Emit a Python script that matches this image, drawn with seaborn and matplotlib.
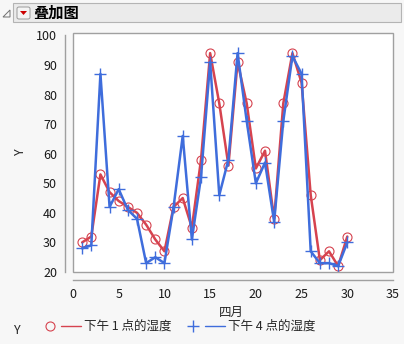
import matplotlib
matplotlib.use("Agg")
import matplotlib.pyplot as plt
from matplotlib.patches import Rectangle, Polygon, FancyBboxPatch
from matplotlib.lines import Line2D
import seaborn as sns
import pandas as pd

days = list(range(1, 31))
hum_1pm = [30, 32, 53, 47, 44, 42, 40, 36, 31, 27, 42, 45, 35, 58, 94,
           77, 56, 91, 77, 55, 61, 38, 77, 94, 84, 46, 24, 27, 22, 32]
hum_4pm = [28, 29, 87, 42, 48, 41, 38, 23, 25, 23, 42, 66, 31, 52, 91,
           46, 58, 94, 71, 50, 57, 37, 71, 93, 87, 27, 23, 23, 22, 30]
series_names = ["下午 1 点的湿度", "下午 4 点的湿度"]
x_ticks = [0, 5, 10, 15, 20, 25, 30, 35]
y_ticks = [20, 30, 40, 50, 60, 70, 80, 90, 100]

sns.set_style("white")
plt.rcParams["font.family"] = ["Noto Sans CJK SC", "DejaVu Sans"]

RED = "#d6434f"
BLUE = "#3f6ddc"
W, H = 404, 344

df1 = pd.DataFrame({"day": days, "value": hum_1pm})
df4 = pd.DataFrame({"day": days, "value": hum_4pm})

fig = plt.figure(figsize=(W / 100, H / 100), dpi=100)
fig.patch.set_facecolor("#f7f7f7")

def fx(x):
    return x / W

def fy(y):
    return 1 - y / H

# header bar
fig.patches.append(Rectangle((fx(13), fy(22)), fx(401) - fx(13), fy(3) - fy(22),
                             transform=fig.transFigure, facecolor="#ebebeb",
                             edgecolor="#b4b4b4", lw=0.8))
fig.patches.append(Polygon([[fx(3), fy(17)], [fx(10), fy(17)], [fx(10), fy(10)]],
                           closed=True, transform=fig.transFigure,
                           facecolor="none", edgecolor="#707070", lw=0.7))
fig.patches.append(FancyBboxPatch((fx(17), fy(19)), fx(30) - fx(17), fy(7) - fy(19),
                                  boxstyle="round,pad=0,rounding_size=0.005",
                                  transform=fig.transFigure, facecolor="#f4f4f4",
                                  edgecolor="#9a9a9a", lw=0.7))
fig.patches.append(Polygon([[fx(20), fy(11)], [fx(27), fy(11)], [fx(23.5), fy(15)]],
                           closed=True, transform=fig.transFigure,
                           facecolor="#cc0000", edgecolor="none"))
fig.text(fx(33), fy(12.5), "叠加图", fontsize=11, fontweight="bold",
         va="center", ha="left", color="black")

ax = fig.add_axes([fx(73), fy(272), fx(393) - fx(73), fy(33) - fy(272)])
ax.set_facecolor("white")

sns.lineplot(data=df1, x="day", y="value", color=RED, marker="o",
             markerfacecolor="none", markeredgecolor=RED, markeredgewidth=0.8,
             markersize=6.5, lw=1.8, ax=ax, zorder=2)
sns.lineplot(data=df4, x="day", y="value", color=BLUE, marker="+",
             markeredgecolor=BLUE, markeredgewidth=1.0,
             markersize=8, lw=1.8, ax=ax, zorder=3)

ax.set_xlim(0, 35)
ax.set_ylim(20, 100.8)
ax.set_xticks(x_ticks)
ax.set_yticks(y_ticks)

# frame
ax.add_patch(Rectangle((0, 0), 1, 1, transform=ax.transAxes, fill=False,
                       edgecolor="#a0a0a0", lw=1.0, clip_on=False, zorder=5))
for s in ["top", "right"]:
    ax.spines[s].set_visible(False)
for s in ["left", "bottom"]:
    ax.spines[s].set_color("#a0a0a0")
    ax.spines[s].set_linewidth(1.0)
ax.spines["left"].set_position(("outward", 6))
ax.spines["bottom"].set_position(("outward", 6))
ax.spines["left"].set_bounds(20, 100)
ax.spines["bottom"].set_bounds(0, 35)
ax.tick_params(axis="both", direction="out", length=4, width=1.0,
               color="#a0a0a0", labelsize=9, labelcolor="#1a1a1a", pad=1.5)
ax.set_xlabel("")
ax.set_ylabel("")

fig.text(fx(20), fy(152), "Y", rotation=90, fontsize=9, ha="center", va="center")
fig.text(fx(231), fy(312), "四月", fontsize=9, ha="center", va="center")

# legend
fig.text(fx(17), fy(330), "Y", fontsize=9, ha="center", va="center")
fig.lines.append(Line2D([fx(50)], [fy(326)], transform=fig.transFigure, marker="o",
                        markersize=6.5, markerfacecolor="none", markeredgecolor=RED,
                        markeredgewidth=0.8, lw=0))
fig.lines.append(Line2D([fx(61), fx(81)], [fy(326), fy(326)], transform=fig.transFigure,
                        color=RED, lw=1.0))
fig.text(fx(84), fy(326), series_names[0], fontsize=9, ha="left", va="center")
fig.lines.append(Line2D([fx(193)], [fy(326)], transform=fig.transFigure, marker="+",
                        markersize=8, markeredgecolor=BLUE, markeredgewidth=1.0, lw=0))
fig.lines.append(Line2D([fx(205), fx(225)], [fy(326), fy(326)], transform=fig.transFigure,
                        color=BLUE, lw=1.0))
fig.text(fx(228), fy(326), series_names[1], fontsize=9, ha="left", va="center")

fig.savefig("out.png", dpi=100, facecolor=fig.get_facecolor())
